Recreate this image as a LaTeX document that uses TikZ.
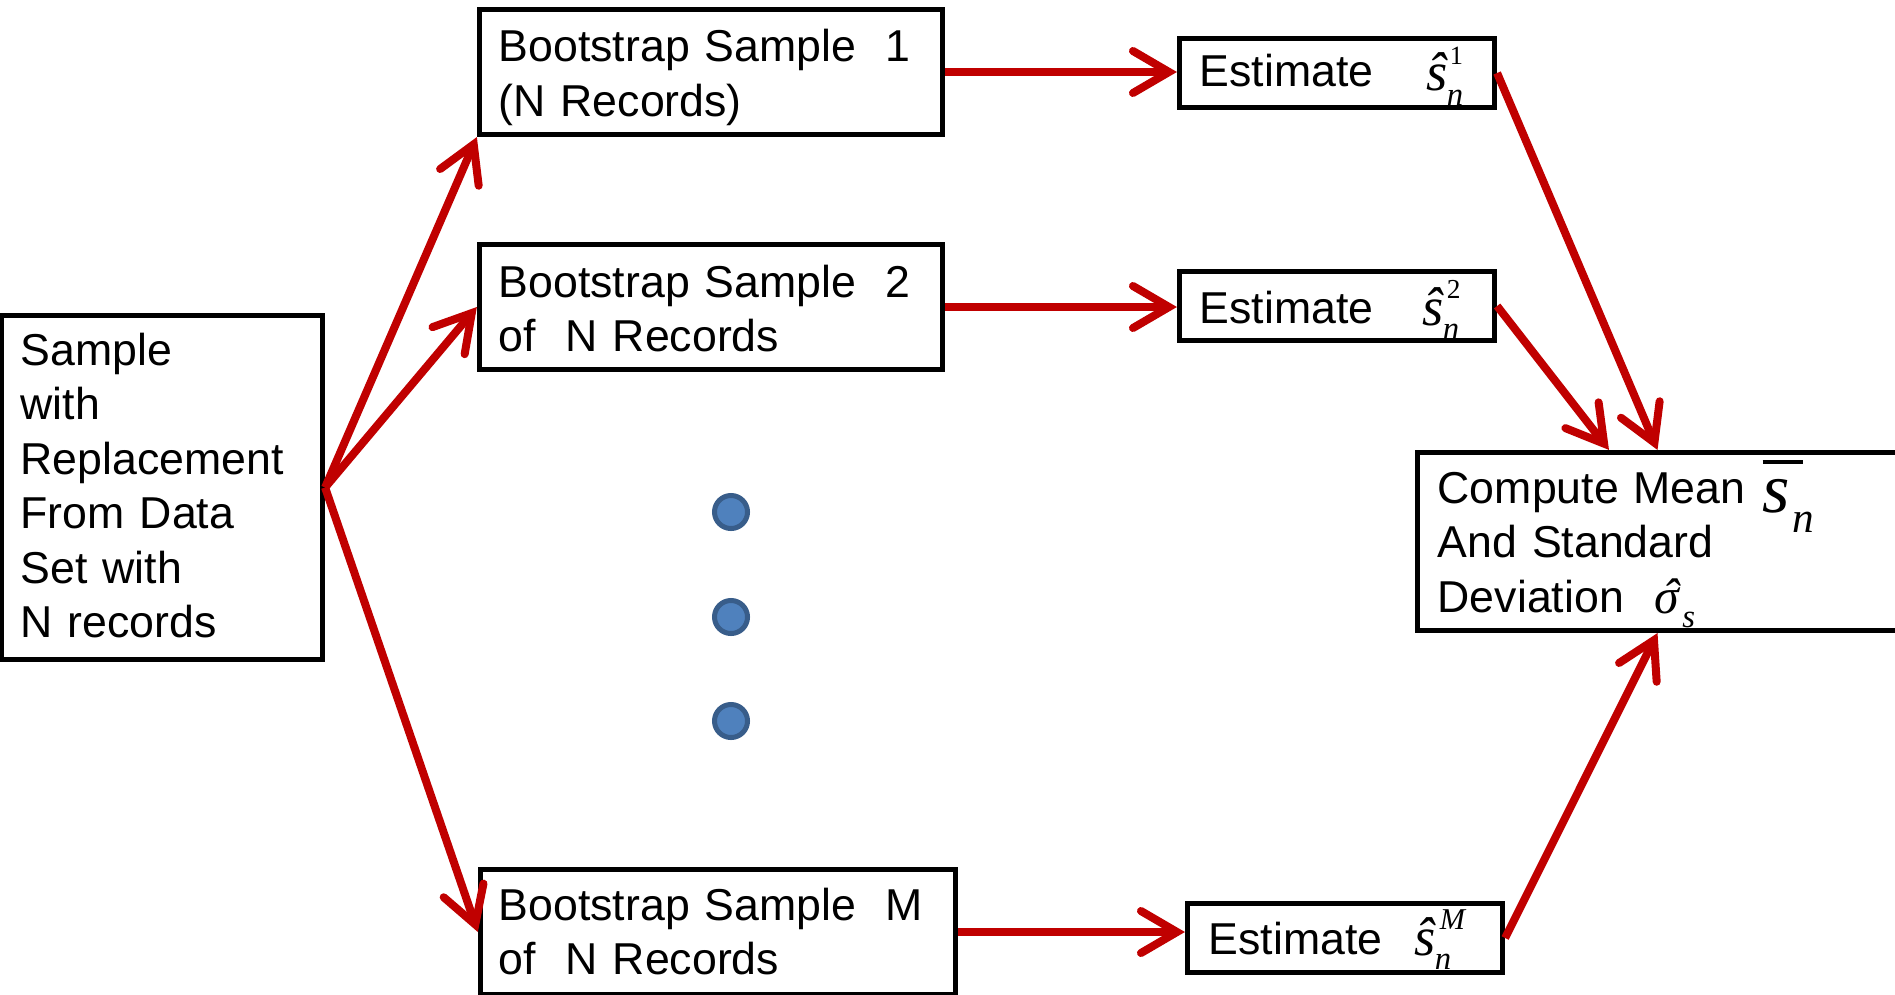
\documentclass[tikz,border=0pt]{standalone}
\usepackage{fontspec}
\setmainfont{Liberation Sans}
\newfontfamily\mathserif{Liberation Serif}
\usetikzlibrary{arrows.meta,calc}

% one drawing unit = 0.01cm
\newdimen\pxu \pxu=0.28453pt

\definecolor{arrowred}{HTML}{C00000}
\definecolor{dotfill}{HTML}{4F81BD}
\definecolor{dotedge}{HTML}{385D8A}

% the estimate symbol: hatted italic s with superscript index and subscript n
\newcommand\estsym[2]{%
  {\mathserif\itshape\fontsize{15.5}{16}\selectfont ŝ}%
  \rlap{\kern#2\raisebox{26\pxu}{\mathserif #1}}%
  \kern-1\pxu\raisebox{-14\pxu}{\mathserif\itshape\fontsize{9.3}{10}\selectfont n}}

\tikzset{
  box/.style={draw=black, line width=0.05cm, rectangle, inner sep=0pt},
  flow/.style={draw=arrowred, line width=0.08cm, line join=miter,
    -{Straight Barb[length=0.36cm, width=0.42cm, line cap=round]}},
  lbl/.style={anchor=base west, inner sep=0pt, align=left,
    font=\fontsize{12.7}{15.5}\selectfont},
  formula/.style={anchor=base west, inner sep=0pt},
  dot/.style={circle, draw=dotedge, fill=dotfill, line width=0.05cm,
    minimum size=0.33cm, inner sep=0pt},
}

\begin{document}
\begin{tikzpicture}[x=0.01cm, y=-0.01cm]
\useasboundingbox (0,0) rectangle (1895,994);

% boxes
\node[box, minimum width=3.21cm, minimum height=3.44cm] (L)  at (162,487.5) {};
\node[box, minimum width=4.63cm, minimum height=1.25cm] (B1) at (711,72) {};
\node[box, minimum width=4.63cm, minimum height=1.25cm] (B2) at (711,307) {};
\node[box, minimum width=4.75cm, minimum height=1.25cm] (BM) at (718,932) {};
\node[box, minimum width=3.15cm, minimum height=0.69cm] (E1) at (1337,73) {};
\node[box, minimum width=3.15cm, minimum height=0.69cm] (E2) at (1337,306) {};
\node[box, minimum width=3.15cm, minimum height=0.69cm] (EM) at (1345,938) {};
\node[box, minimum width=4.80cm, minimum height=1.78cm] (C)  at (1657.5,541.5) {};

% box texts
\node[lbl, text width=3cm] (tL) at (20,365)
  {Sample\\with\\Replacement\\From Data\\Set with\\N records};
\node[lbl, text width=4.4cm] (tB1) at (498,62) {Bootstrap Sample\ \ 1\\(N Records)};
\node[lbl, text width=4.4cm] (tB2) at (498,297) {Bootstrap Sample\ \ 2\\of\ \ N Records};
\node[lbl, text width=4.5cm] (tBM) at (498,920) {Bootstrap Sample\ \ M\\of\ \ N Records};
\node[lbl] (tE1) at (1199,87) {Estimate};
\node[lbl] (tE2) at (1199,323) {Estimate};
\node[lbl] (tEM) at (1208,954) {Estimate};
\node[lbl, text width=4.4cm] (tC) at (1437,503) {Compute Mean\\And Standard\\Deviation};

% formulas
\node[formula] (fE1) at (1426,91)
  {\estsym{\fontsize{7.5}{8}\selectfont 1}{2\pxu}};
\node[formula] (fE2) at (1422,325)
  {\estsym{\fontsize{7.8}{8}\selectfont 2}{3\pxu}};
\node[formula] (fEM) at (1414,955)
  {\estsym{\itshape\fontsize{8.6}{9}\selectfont M}{4\pxu}};
\node[formula] (fmean) at (1762,512)
  {\rlap{\raisebox{48\pxu}{\rule{40\pxu}{4\pxu}}}%
   {\mathserif\itshape\fontsize{20}{22}\selectfont s}\kern2\pxu
   \raisebox{-20\pxu}{\mathserif\itshape\fontsize{12.3}{13}\selectfont n}};
\node[formula] (fsd) at (1654,613)
  {{\mathserif\itshape\fontsize{14.2}{15}\selectfont
    \rlap{\kern8\pxu ˆ}σ}\kern3\pxu
   \raisebox{-14\pxu}{\mathserif\itshape\fontsize{9.3}{10}\selectfont s}};

% ellipsis dots
\node[dot] (d1) at (731,512) {};
\node[dot] (d2) at (731,617) {};
\node[dot] (d3) at (731,721) {};

% connectors
\draw[flow] (L.east) -- (B1.south west);
\draw[flow] (L.east) -- (B2.west);
\draw[flow] (L.east) -- (BM.west);
\draw[flow] (B1.east) -- (B1.east -| E1.west);
\draw[flow] (B2.east) -- (B2.east -| E2.west);
\draw[flow] (BM.east) -- (BM.east -| EM.west);
\draw[flow] (E1.east) -- (C.north);
\draw[flow] (E2.east) -- ($(C.north west)!0.4!(C.north east)$);
\draw[flow] (EM.east) -- (C.south);
\end{tikzpicture}
\end{document}
